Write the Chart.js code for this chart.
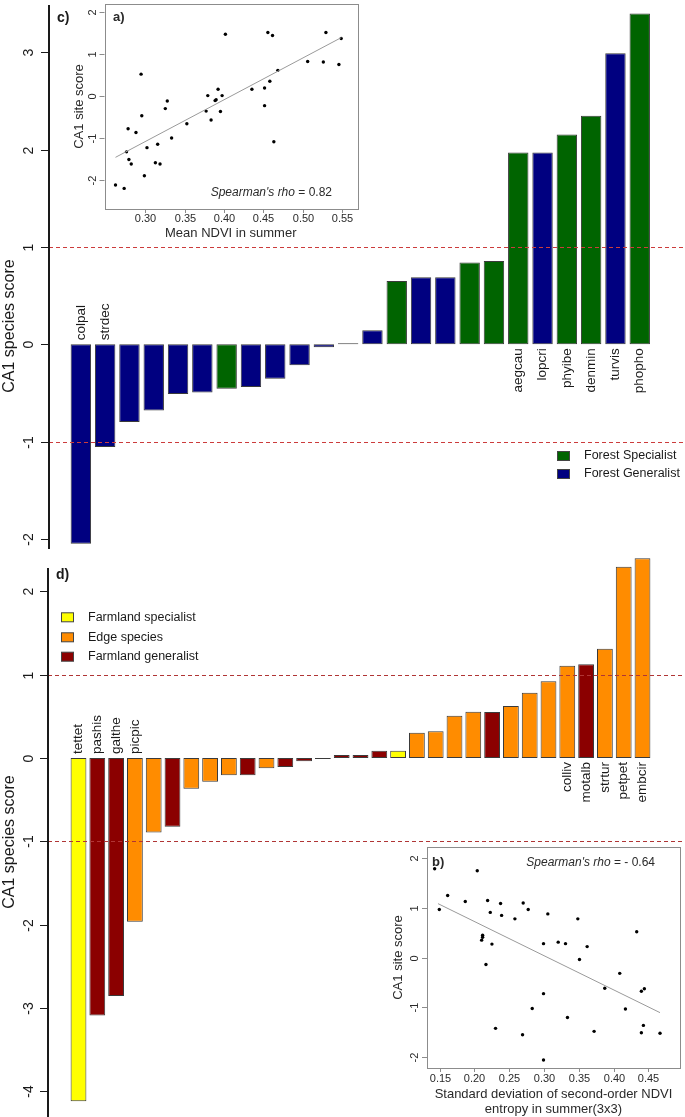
<!DOCTYPE html>
<html>
<head>
<meta charset="utf-8">
<script src="https://cdn.jsdelivr.net/npm/chart.js@4.4.1/dist/chart.umd.min.js"></script>
<style>
  body { margin: 0; background: #fff; width: 685px; height: 1117px; position: relative; overflow: hidden; }
  canvas { position: absolute; }
</style>
</head>
<body>
<canvas id="chartC" width="685" height="556" style="left:0px;top:0px"></canvas>
<canvas id="chartD" width="685" height="562" style="left:0px;top:555px"></canvas>
<canvas id="chartA" width="305" height="245" style="left:62px;top:0px"></canvas>
<canvas id="chartB" width="300" height="274" style="left:385px;top:843px"></canvas>
<script>
// ---- panel c: forest species ----
const forestLabels = ['colpal','strdec','','','','','','','','','','','','','','','','','aegcau','lopcri','phyibe','denmin','turvis','phopho'];
const forestScores = [-2.05,-1.055,-0.80,-0.68,-0.51,-0.495,-0.457,-0.44,-0.354,-0.216,-0.03,0.003,0.144,0.65,0.69,0.69,0.84,0.855,1.97,1.97,2.155,2.35,2.99,3.40];
const forestGroups = ['FG','FG','FG','FG','FG','FG','FS','FG','FG','FG','FG','FG','FG','FS','FG','FG','FS','FS','FS','FG','FS','FS','FG','FS'];
const forestTicks = [-2,-1,0,1,2,3];

// ---- panel d: farmland species ----
const farmLabels = ['tettet','pashis','galthe','picpic','','','','','','','','','','','','','','','','','','','','','','','colliv','motalb','strtur','petpet','embcir'];
const farmScores = [-4.12,-3.09,-2.857,-1.965,-0.894,-0.826,-0.369,-0.285,-0.208,-0.208,-0.124,-0.108,-0.04,-0.004,0.036,0.036,0.088,0.088,0.304,0.32,0.508,0.556,0.552,0.624,0.784,0.92,1.108,1.124,1.312,2.297,2.397];
const farmGroups = ['FSp','FGe','FGe','ED','ED','FGe','ED','ED','ED','FGe','ED','FGe','FGe','FGe','FGe','FGe','FGe','FSp','ED','ED','ED','ED','FGe','ED','ED','ED','ED','FGe','ED','ED','ED'];
const farmTicks = [-4,-3,-2,-1,0,1,2];

// ---- inset a: mean NDVI vs site score ----
const ndviMean = [0.262,0.273,0.276,0.278,0.279,0.282,0.288,0.2945,0.2954,0.2987,0.302,0.3127,0.3156,0.3186,0.3253,0.3278,0.3333,0.3527,0.3772,0.3793,0.3835,0.3886,0.3899,0.3924,0.3954,0.3975,0.4017,0.4354,0.4515,0.4515,0.4557,0.4582,0.4616,0.4633,0.4684,0.5063,0.5262,0.5295,0.546,0.5489];
const siteScoreA = [-2.12,-2.20,-1.33,-0.78,-1.51,-1.62,-0.87,0.52,-0.47,-1.90,-1.23,-1.59,-1.15,-1.62,-0.30,-0.12,-1.00,-0.66,-0.36,0.01,-0.57,-0.11,-0.09,0.16,-0.37,0.01,1.47,0.16,0.19,-0.23,1.51,0.35,1.44,-1.09,0.61,0.82,0.81,1.51,0.75,1.37];
const fitAx = [0.262,0.549];
const fitAy = [-1.46,1.39];
const ticksAx = [0.30,0.35,0.40,0.45,0.50,0.55];
const ticksAy = [-2,-1,0,1,2];

// ---- inset b: sd of NDVI entropy vs site score ----
const ndviEntropySd = [0.1428,0.1495,0.1615,0.1868,0.2040,0.2189,0.2227,0.2103,0.2117,0.2117,0.2251,0.2165,0.2303,0.2375,0.2390,0.2581,0.2700,0.2772,0.2691,0.2830,0.2992,0.2992,0.2992,0.3054,0.3203,0.3308,0.3336,0.3485,0.3509,0.3619,0.3719,0.3872,0.4087,0.4169,0.4331,0.4398,0.4441,0.4398,0.4427,0.4666];
const siteScoreB = [1.79,0.97,1.25,1.13,1.75,1.15,0.91,0.35,0.41,0.45,0.27,-0.14,-1.43,1.09,0.85,0.78,1.10,0.97,-1.56,-1.03,0.28,-0.73,-2.07,0.88,0.31,0.28,-1.21,0.78,-0.04,0.22,-1.49,-0.62,-0.32,-1.04,0.52,-0.68,-0.63,-1.52,-1.37,-1.53];
const fitBx = [0.1476,0.4666];
const fitBy = [1.087,-1.113];
const ticksBx = [0.15,0.20,0.25,0.30,0.35,0.40,0.45];
const ticksBy = [-2,-1,0,1,2];

const groupColors = { FS: '#006400', FG: '#000080', FSp: '#ffff00', ED: '#ff8c00', FGe: '#8b0000' };
const FONT = 'Liberation Sans, Arial, sans-serif';
const INK = '#1a1a1a';

function vtext(ctx, txt, x, y, align) {
  ctx.save();
  ctx.translate(x, y);
  ctx.rotate(-Math.PI / 2);
  ctx.textAlign = align;
  ctx.textBaseline = 'middle';
  ctx.fillText(txt, 0, 0);
  ctx.restore();
}

// draws the R-style axis, reference lines, labels and legend of a bar panel
function barDecor(cfg) {
  return {
    id: 'barDecor',
    afterDatasetsDraw(chart) {
      const ctx = chart.ctx;
      const ys = chart.scales.y, xs = chart.scales.x;
      const area = chart.chartArea;
      ctx.save();
      ctx.fillStyle = INK;
      // reference lines at +-1
      ctx.strokeStyle = cfg.dashColor;
      ctx.lineWidth = 1;
      ctx.setLineDash([4, 3]);
      [1, -1].forEach(v => {
        const y = Math.round(ys.getPixelForValue(v)) + 0.5;
        ctx.beginPath(); ctx.moveTo(cfg.axisX, y); ctx.lineTo(685, y); ctx.stroke();
      });
      ctx.setLineDash([]);
      // axis line
      ctx.strokeStyle = INK;
      ctx.lineWidth = 2;
      ctx.beginPath(); ctx.moveTo(cfg.axisX, cfg.axisTop); ctx.lineTo(cfg.axisX, area.bottom); ctx.stroke();
      ctx.lineWidth = 1;
      ctx.font = '14px ' + FONT;
      cfg.ticks.forEach(v => {
        const y = Math.round(ys.getPixelForValue(v)) + 0.5;
        ctx.beginPath(); ctx.moveTo(cfg.axisX - 8, y); ctx.lineTo(cfg.axisX, y); ctx.stroke();
        vtext(ctx, String(v), 29, y, 'center');
      });
      // axis title
      ctx.font = '16px ' + FONT;
      vtext(ctx, 'CA1 species score', 10, cfg.titleY, 'center');
      // panel letter
      ctx.font = 'bold 14px ' + FONT;
      ctx.textAlign = 'left'; ctx.textBaseline = 'middle';
      ctx.fillText(cfg.letter, cfg.letterX, cfg.letterY);
      // species labels
      const zero = ys.getPixelForValue(0);
      ctx.font = '13.5px ' + FONT;
      cfg.labels.forEach((lab, i) => {
        if (!lab) return;
        const x = xs.getPixelForValue(i);
        if (cfg.values[i] < 0) vtext(ctx, lab, x, zero - 4, 'left');
        else vtext(ctx, lab, x, zero + 4, 'right');
      });
      // legend
      ctx.font = '12.5px ' + FONT;
      cfg.legend.forEach(it => {
        ctx.fillStyle = groupColors[it.g];
        ctx.fillRect(cfg.legX, it.y - 4.5, 13, 9);
        ctx.strokeStyle = '#444';
        ctx.strokeRect(cfg.legX + 0.5, it.y - 4.5, 12, 9);
        ctx.fillStyle = INK;
        ctx.textAlign = 'left'; ctx.textBaseline = 'middle';
        ctx.fillText(it.text, cfg.legTextX, it.y);
      });
      ctx.restore();
    }
  };
}

function barChart(id, labels, values, groups, yMin, yMax, padding, decor) {
  return new Chart(document.getElementById(id), {
    type: 'bar',
    data: {
      labels: labels,
      datasets: [{
        data: values,
        backgroundColor: groups.map(g => groupColors[g]),
        borderColor: '#3a3a3a',
        borderWidth: 1,
        borderSkipped: false,
        minBarLength: 1,
        barPercentage: 0.84,
        categoryPercentage: 1
      }]
    },
    options: {
      responsive: false,
      animation: false,
      devicePixelRatio: 1,
      layout: { padding: padding },
      plugins: { legend: { display: false }, tooltip: { enabled: false } },
      scales: {
        x: { display: false, offset: true },
        y: { display: false, min: yMin, max: yMax }
      }
    },
    plugins: [barDecor(decor)]
  });
}

barChart('chartC', forestLabels, forestScores, forestGroups, -2.104, 3.487,
  { left: 68.7, right: 33.1, top: 5, bottom: 7 },
  { axisX: 49, axisTop: 5, ticks: forestTicks, titleY: 326, letter: 'c)', letterX: 57, letterY: 18,
    labels: forestLabels, values: forestScores, dashColor: '#cc3c3c',
    legX: 557, legTextX: 584,
    legend: [{ g: 'FS', text: 'Forest Specialist', y: 456 }, { g: 'FG', text: 'Forest Generalist', y: 474 }] });

barChart('chartD', farmLabels, farmScores, farmGroups, -4.31, 2.437,
  { left: 69.1, right: 33.1, top: 0, bottom: 0 },
  { axisX: 48, axisTop: 13, ticks: farmTicks, titleY: 287, letter: 'd)', letterX: 56, letterY: 20,
    labels: farmLabels, values: farmScores, dashColor: '#b03535',
    legX: 61, legTextX: 88,
    legend: [{ g: 'FSp', text: 'Farmland specialist', y: 62.3 }, { g: 'ED', text: 'Edge species', y: 82.3 }, { g: 'FGe', text: 'Farmland generalist', y: 101.7 }] });

// draws frame, ticks and texts of an inset scatter
function insetDecor(cfg) {
  return {
    id: 'insetDecor',
    afterDraw(chart) {
      const ctx = chart.ctx;
      const a = chart.chartArea;
      const xs = chart.scales.x, ys = chart.scales.y;
      ctx.save();
      ctx.strokeStyle = '#8c8c8c';
      ctx.lineWidth = 1;
      ctx.strokeRect(Math.round(a.left) + 0.5, Math.round(a.top) + 0.5, Math.round(a.right - a.left), Math.round(a.bottom - a.top));
      ctx.fillStyle = '#2a2a2a';
      ctx.font = '11px ' + FONT;
      cfg.yTicks.forEach(v => {
        const y = Math.round(ys.getPixelForValue(v)) + 0.5;
        ctx.beginPath(); ctx.moveTo(a.left - 5, y); ctx.lineTo(a.left, y); ctx.stroke();
        vtext(ctx, String(v), cfg.yLabX, y, 'center');
      });
      ctx.textAlign = 'center'; ctx.textBaseline = 'middle';
      cfg.xTicks.forEach(v => {
        const x = Math.round(xs.getPixelForValue(v)) + 0.5;
        ctx.beginPath(); ctx.moveTo(x, a.bottom); ctx.lineTo(x, a.bottom + 4); ctx.stroke();
        ctx.fillText(v.toFixed(2), x, cfg.xLabY);
      });
      ctx.font = '13px ' + FONT;
      const cx = (a.left + a.right) / 2;
      cfg.xTitle.forEach((t, i) => ctx.fillText(t, cx, cfg.xTitleY + i * 15));
      vtext(ctx, 'CA1 site score', cfg.yTitleX, (a.top + a.bottom) / 2, 'center');
      ctx.font = 'bold 13px ' + FONT;
      ctx.textAlign = 'left';
      ctx.fillText(cfg.letter, cfg.letterX, cfg.letterY);
      // Spearman's rho text, right aligned
      ctx.font = 'italic 12px ' + FONT;
      const w1 = ctx.measureText("Spearman's rho").width;
      ctx.font = '12px ' + FONT;
      const rest = ' = ' + cfg.rho;
      const w2 = ctx.measureText(rest).width;
      const x0 = cfg.rhoRight - w1 - w2;
      ctx.font = 'italic 12px ' + FONT;
      ctx.fillText("Spearman's rho", x0, cfg.rhoY);
      ctx.font = '12px ' + FONT;
      ctx.fillText(rest, x0 + w1, cfg.rhoY);
      ctx.restore();
    }
  };
}

function scatterChart(id, xs, ys, fx, fy, xMin, xMax, yMin, yMax, padding, decor) {
  return new Chart(document.getElementById(id), {
    type: 'scatter',
    data: {
      datasets: [
        {
          type: 'line',
          data: fx.map((x, i) => ({ x: x, y: fy[i] })),
          borderColor: '#9a9a9a',
          borderWidth: 1,
          pointRadius: 0,
          showLine: true
        },
        {
          data: xs.map((x, i) => ({ x: x, y: ys[i] })),
          backgroundColor: '#000',
          borderWidth: 0,
          pointRadius: 1.7
        }
      ]
    },
    options: {
      responsive: false,
      animation: false,
      devicePixelRatio: 1,
      layout: { padding: padding },
      plugins: { legend: { display: false }, tooltip: { enabled: false } },
      scales: {
        x: { type: 'linear', display: false, min: xMin, max: xMax },
        y: { type: 'linear', display: false, min: yMin, max: yMax }
      }
    },
    plugins: [insetDecor(decor)]
  });
}

scatterChart('chartA', ndviMean, siteScoreA, fitAx, fitAy, 0.248, 0.569, -2.69, 2.19,
  { left: 42.5, right: 10, top: 1, bottom: 36 },
  { yTicks: ticksAy, xTicks: ticksAx, yLabX: 31, xLabY: 219, xTitle: ['Mean NDVI in summer'], xTitleY: 233,
    yTitleX: 17, letter: 'a)', letterX: 51, letterY: 17, rho: '0.82', rhoRight: 270, rhoY: 193 });

scatterChart('chartB', ndviEntropySd, siteScoreB, fitBx, fitBy, 0.1318, 0.4953, -2.23, 2.23,
  { left: 42, right: 5, top: 2, bottom: 49 },
  { yTicks: ticksBy, xTicks: ticksBx, yLabX: 30, xLabY: 236,
    xTitle: ['Standard deviation of second-order NDVI', 'entropy in summer(3x3)'], xTitleY: 251,
    yTitleX: 13, letter: 'b)', letterX: 47, letterY: 19, rho: '- 0.64', rhoRight: 270, rhoY: 20 });
</script>
</body>
</html>
